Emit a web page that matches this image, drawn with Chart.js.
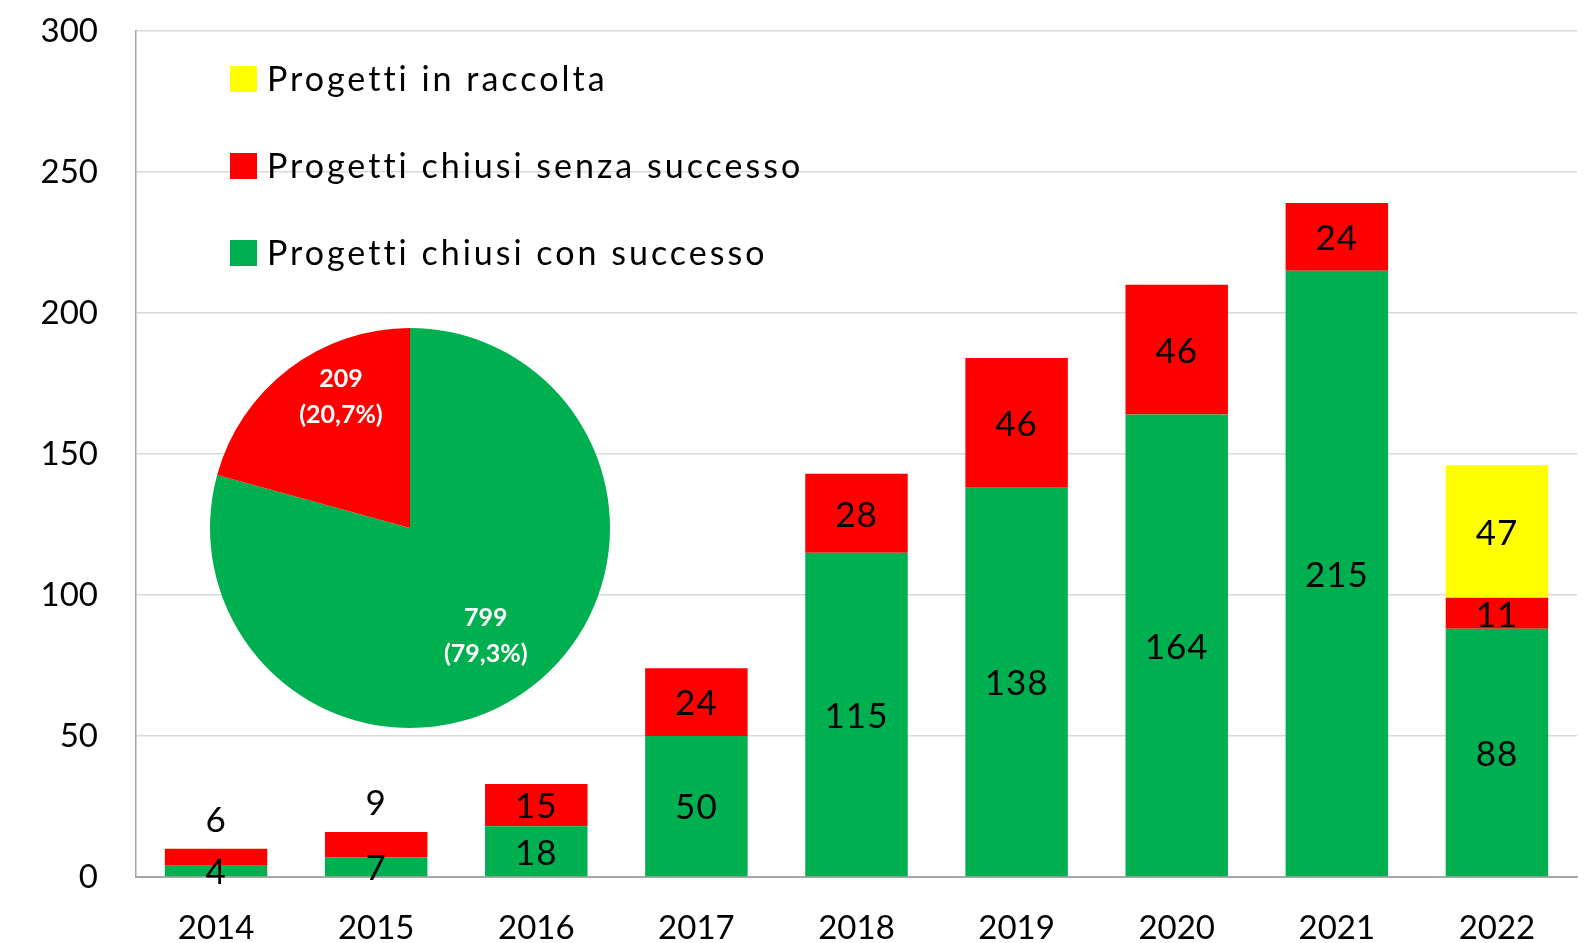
<!DOCTYPE html>
<html lang="it">
<head>
<meta charset="UTF-8">
<title>Progetti</title>
<script src="https://cdn.jsdelivr.net/npm/chart.js"></script>
<style>
    body { margin: 0; background: #fff; }
    .wrap { position: relative; width: 1587px; height: 943px; }
    #barre { position: absolute; left: 0; top: 0; }
    #torta { position: absolute; left: 208px; top: 326px; }
</style>
</head>
<body>
<div class="wrap">
    <canvas id="barre" width="1587" height="943"></canvas>
    <canvas id="torta" width="404" height="404"></canvas>
</div>
<script>
// dati
const anni = ['2014', '2015', '2016', '2017', '2018', '2019', '2020', '2021', '2022'];
const conSuccesso = [4, 7, 18, 50, 115, 138, 164, 215, 88];
const senzaSuccesso = [6, 9, 15, 24, 28, 46, 46, 24, 11];
const inRaccolta = [0, 0, 0, 0, 0, 0, 0, 0, 47];
const tortaValori = [799, 209];
const yTicks = [0, 50, 100, 150, 200, 250, 300];

const VERDE = '#00b050', ROSSO = '#ff0000', GIALLO = '#ffff00';
const FONT = 'Lato, "Open Sans", sans-serif';

// etichette dentro le barre
const etichetteBarre = {
    id: 'etichetteBarre',
    afterDatasetsDraw(chart) {
        const ctx = chart.ctx;
        ctx.save();
        ctx.font = '35px ' + FONT;
        ctx.letterSpacing = '1px';
        ctx.fillStyle = '#000';
        ctx.textAlign = 'center';
        ctx.textBaseline = 'middle';
        chart.data.datasets.forEach((ds, i) => {
            chart.getDatasetMeta(i).data.forEach((bar, j) => {
                var v = ds.data[j];
                if (!v) return;
                var y = (bar.y + bar.base) / 2;
                if (i > 0 && v < 10) y = bar.y - 30;
                ctx.fillText(v, bar.x, y + 2);
            });
        });
        ctx.restore();
    }
};

// legenda dentro l'area del grafico
const legendaInterna = {
    id: 'legendaInterna',
    afterDraw(chart) {
        const ctx = chart.ctx;
        const righe = chart.data.datasets.slice().reverse();
        ctx.save();
        ctx.font = '34px ' + FONT;
        ctx.letterSpacing = '3px';
        ctx.textBaseline = 'middle';
        righe.forEach((ds, k) => {
            var y = 79 + k * 87;
            ctx.fillStyle = ds.backgroundColor;
            ctx.fillRect(230, y - 13, 27, 26);
            ctx.fillStyle = '#000';
            ctx.fillText(ds.label, 267, y + 1);
        });
        ctx.restore();
    }
};

new Chart(document.getElementById('barre'), {
    type: 'bar',
    data: {
        labels: anni,
        datasets: [
            { label: 'Progetti chiusi con successo', data: conSuccesso, backgroundColor: VERDE },
            { label: 'Progetti chiusi senza successo', data: senzaSuccesso, backgroundColor: ROSSO },
            { label: 'Progetti in raccolta', data: inRaccolta, backgroundColor: GIALLO }
        ]
    },
    options: {
        responsive: false,
        animation: false,
        events: [],
        categoryPercentage: 1,
        barPercentage: 0.64,
        layout: { padding: { top: 0, right: 10, left: 0, bottom: 0 } },
        plugins: { legend: { display: false }, tooltip: { enabled: false } },
        scales: {
            x: {
                stacked: true,
                grid: { display: false, drawTicks: false },
                border: { color: '#a6a6a6', width: 2 },
                ticks: { color: '#000', font: { family: FONT, size: 33 }, padding: 32 },
                afterFit(s) { s.height = 66; }
            },
            y: {
                stacked: true,
                min: 0,
                max: 300,
                afterBuildTicks(s) { s.ticks = yTicks.map(v => ({ value: v })); },
                grid: { color: '#d9d9d9', lineWidth: 1.5, drawTicks: false },
                border: { color: '#a6a6a6', width: 1.5 },
                ticks: { color: '#000', font: { family: FONT, size: 33 }, padding: 38 },
                afterFit(s) { s.width = 136; s.paddingTop = 31; s.paddingBottom = 0; }
            }
        }
    },
    plugins: [etichetteBarre, legendaInterna]
});

// torta
const totale = tortaValori.reduce((a, b) => a + b, 0);
const etichetteTorta = {
    id: 'etichetteTorta',
    afterDatasetsDraw(chart) {
        const ctx = chart.ctx;
        const arcs = chart.getDatasetMeta(0).data;
        const fattori = [0.66, 0.74];
        const spostamento = [0.04, 0.166];
        ctx.save();
        ctx.font = 'bold 25px ' + FONT;
        ctx.fillStyle = '#fff';
        ctx.textAlign = 'center';
        ctx.textBaseline = 'middle';
        arcs.forEach((a, i) => {
            var mid = (a.startAngle + a.endAngle) / 2 + spostamento[i];
            var r = a.outerRadius * fattori[i];
            var x = a.x + Math.cos(mid) * r;
            var y = a.y + Math.sin(mid) * r;
            var pct = (tortaValori[i] / totale * 100).toFixed(1).replace('.', ',');
            ctx.fillText(tortaValori[i], x, y - 18);
            ctx.fillText('(' + pct + '%)', x, y + 18);
        });
        ctx.restore();
    }
};

new Chart(document.getElementById('torta'), {
    type: 'pie',
    data: {
        labels: ['Progetti chiusi con successo', 'Progetti chiusi senza successo'],
        datasets: [{ data: tortaValori, backgroundColor: [VERDE, ROSSO], borderWidth: 0 }]
    },
    options: {
        responsive: false,
        animation: false,
        events: [],
        layout: { padding: 2 },
        plugins: { legend: { display: false }, tooltip: { enabled: false } }
    },
    plugins: [etichetteTorta]
});
</script>
</body>
</html>
